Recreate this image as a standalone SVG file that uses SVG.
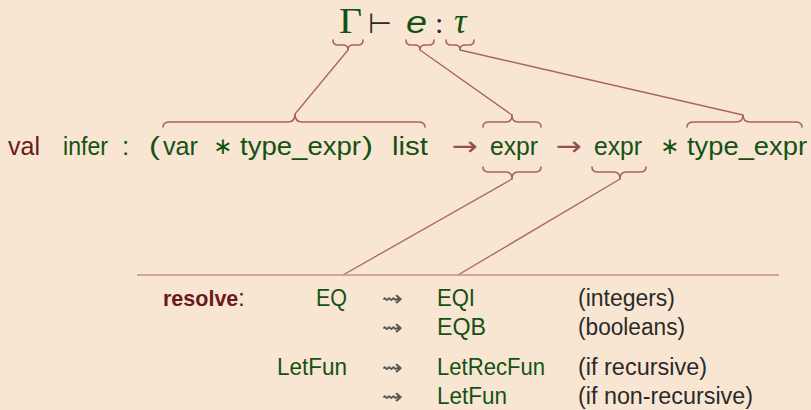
<svg xmlns="http://www.w3.org/2000/svg" width="811" height="410" viewBox="0 0 811 410">
<style>
.bg{fill:#F8E6D3}
.g{fill:#145214;font-family:"Liberation Sans",Arial,sans-serif}
.m{font-size:26px}
.t{font-size:23px}
.br{fill:#6A1A1A}
.dk{fill:#2a2a2a}
.sym{font-family:"DejaVu Sans",sans-serif}
.arr{fill:#94504C;font-family:"DejaVu Sans",sans-serif;font-size:26px}
.lt{fill:#555;font-family:"DejaVu Sans",sans-serif;font-size:22px}
.brace{fill:none;stroke:#A8645E;stroke-width:1.6;stroke-linejoin:round;stroke-linecap:round}
.conn{fill:none;stroke:#A8645E;stroke-width:1.3}
.rule{stroke:#C99088;stroke-width:1.6}
.serif{font-family:"Liberation Serif","DejaVu Serif",serif;font-size:35px}
.note{fill:#2a2a2a;font-family:"Liberation Sans",Arial,sans-serif;font-size:23px}
</style>
<rect class="bg" x="0" y="0" width="811" height="410"/>

<g id="judgement">
  <text class="serif g" x="339" y="33" textLength="23" lengthAdjust="spacingAndGlyphs">Γ</text>
  <text class="dk sym" x="368" y="33" font-size="28" textLength="24" lengthAdjust="spacingAndGlyphs">⊢</text>
  <text class="g" x="406" y="33" font-size="31" font-style="italic" textLength="21" lengthAdjust="spacingAndGlyphs">e</text>
  <text class="dk" x="435" y="33" style="font-family:'Liberation Serif',serif;font-size:30px">:</text>
  <text class="serif g" x="454" y="33" font-style="italic">τ</text>
  <path class="brace" d="M333 40 Q333 45 338 45 L343 45 Q348 45 348 50 Q348 45 353 45 L358 45 Q363 45 363 40"/>
  <path class="brace" d="M406 40 Q406 45 411 45 L415 45 Q420 45 420 50 Q420 45 425 45 L429 45 Q434 45 434 40"/>
  <path class="brace" d="M446 40 Q446 45 451 45 L455 45 Q460 45 460 50 Q460 45 465 45 L469 45 Q474 45 474 40"/>
</g>

<g id="signature">
  <text class="g m br" x="8" y="155" textLength="32" lengthAdjust="spacingAndGlyphs">val</text>
  <text class="g m" x="63" y="155" textLength="45" lengthAdjust="spacingAndGlyphs">infer</text>
  <text class="g m" x="122" y="155">:</text>
  <text class="g m" x="149" y="155" textLength="11" lengthAdjust="spacingAndGlyphs">(</text>
  <text class="g m" x="163" y="155" textLength="35" lengthAdjust="spacingAndGlyphs">var</text>
  <text class="g sym" x="213" y="154" font-size="23">∗</text>
  <text class="g m" x="240" y="155" textLength="121" lengthAdjust="spacingAndGlyphs">type_expr</text>
  <text class="g m" x="362" y="155" textLength="11" lengthAdjust="spacingAndGlyphs">)</text>
  <text class="g m" x="392" y="155" textLength="36" lengthAdjust="spacingAndGlyphs">list</text>
  <text class="arr" x="452" y="155" textLength="26" lengthAdjust="spacingAndGlyphs">→</text>
  <text class="g m" x="490" y="155" textLength="48" lengthAdjust="spacingAndGlyphs">expr</text>
  <text class="arr" x="556" y="155" textLength="26" lengthAdjust="spacingAndGlyphs">→</text>
  <text class="g m" x="594" y="155" textLength="48" lengthAdjust="spacingAndGlyphs">expr</text>
  <text class="g sym" x="660" y="154" font-size="23">∗</text>
  <text class="g m" x="687" y="155" textLength="120" lengthAdjust="spacingAndGlyphs">type_expr</text>
  <path class="brace" d="M163 127 Q163 122 170 122 L288 122 Q295 122 295 114 Q295 122 302 122 L418 122 Q425 122 425 127"/>
  <path class="brace" d="M483 127 Q483 122 489 122 L506 122 Q512 122 512 115 Q512 122 518 122 L535 122 Q541 122 541 127"/>
  <path class="brace" d="M687 127 Q687 122 694 122 L736 122 Q743 122 743 115 Q743 122 750 122 L795 122 Q802 122 802 127"/>
  <path class="brace" d="M483 167 Q483 172 489 172 L506 172 Q512 172 512 179 Q512 172 518 172 L535 172 Q541 172 541 167"/>
  <path class="brace" d="M592 167 Q592 172 598 172 L614 172 Q620 172 620 179 Q620 172 626 172 L640 172 Q646 172 646 167"/>
</g>

<g id="connectors">
  <line class="conn" x1="348" y1="50" x2="295" y2="114"/>
  <line class="conn" x1="420" y1="50" x2="512" y2="115"/>
  <line class="conn" x1="460" y1="50" x2="743" y2="115"/>
  <line class="conn" x1="512" y1="179" x2="343" y2="275"/>
  <line class="conn" x1="620" y1="179" x2="458" y2="275"/>
  <line class="rule" x1="137" y1="275" x2="779" y2="275"/>
</g>

<g id="resolve">
  <text class="note" x="163" y="306"><tspan class="br" font-weight="bold" font-size="21.5">resolve</tspan><tspan>:</tspan></text>
  <text class="g t" x="347" y="306" text-anchor="end" textLength="31" lengthAdjust="spacingAndGlyphs">EQ</text>
  <text class="lt" x="382" y="306" textLength="21" lengthAdjust="spacingAndGlyphs">⇝</text>
  <text class="g t" x="437" y="306" textLength="38" lengthAdjust="spacingAndGlyphs">EQI</text>
  <text class="note" x="578" y="306" textLength="97" lengthAdjust="spacingAndGlyphs">(integers)</text>

  <text class="lt" x="382" y="335" textLength="21" lengthAdjust="spacingAndGlyphs">⇝</text>
  <text class="g t" x="437" y="335" textLength="49" lengthAdjust="spacingAndGlyphs">EQB</text>
  <text class="note" x="578" y="335" textLength="107" lengthAdjust="spacingAndGlyphs">(booleans)</text>

  <text class="g t" x="347" y="375" text-anchor="end" textLength="70" lengthAdjust="spacingAndGlyphs">LetFun</text>
  <text class="lt" x="382" y="375" textLength="21" lengthAdjust="spacingAndGlyphs">⇝</text>
  <text class="g t" x="437" y="375" textLength="108" lengthAdjust="spacingAndGlyphs">LetRecFun</text>
  <text class="note" x="578" y="375" textLength="129" lengthAdjust="spacingAndGlyphs">(if recursive)</text>

  <text class="lt" x="382" y="404" textLength="21" lengthAdjust="spacingAndGlyphs">⇝</text>
  <text class="g t" x="437" y="404" textLength="70" lengthAdjust="spacingAndGlyphs">LetFun</text>
  <text class="note" x="578" y="404" textLength="175" lengthAdjust="spacingAndGlyphs">(if non-recursive)</text>
</g>
</svg>
